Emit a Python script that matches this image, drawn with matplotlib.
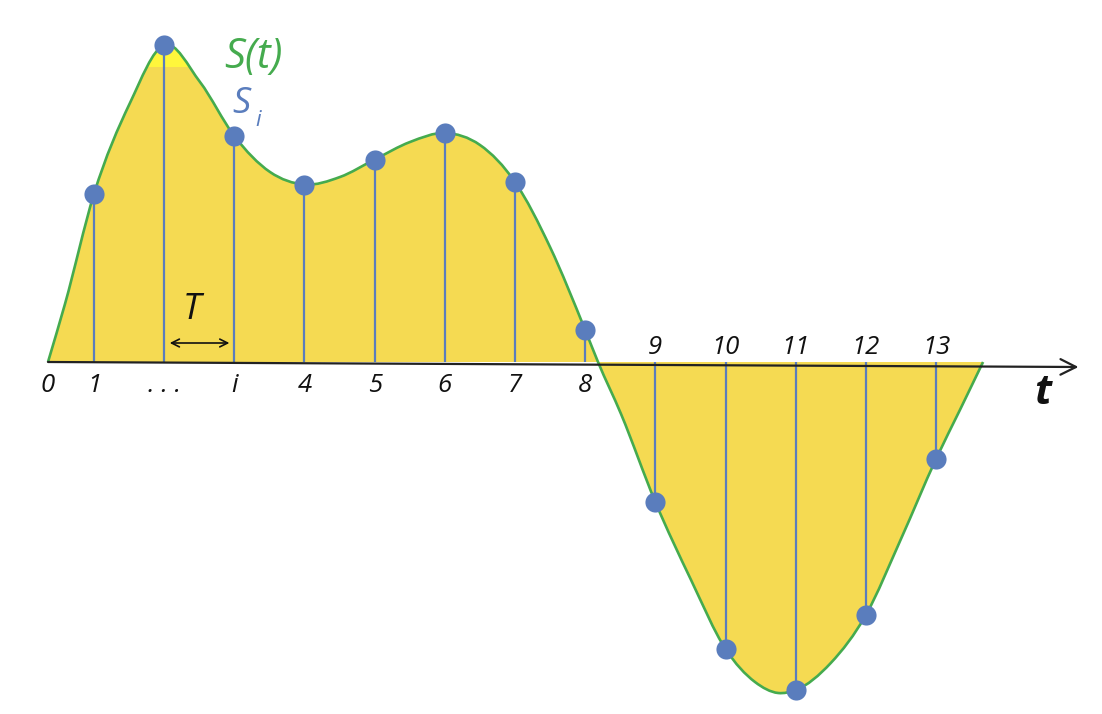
import numpy as np
import matplotlib.pyplot as plt
from matplotlib.path import Path
from matplotlib.patches import PathPatch

# continuous signal S(t) (t in units of T)
curve_t = [0.345, 0.587, 1.0, 1.513, 2.0, 2.511, 3.0, 3.509, 4.0, 4.506,
           5.0, 5.504, 6.0, 6.501, 7.0, 7.499, 8.0, 8.183, 8.511, 9.0,
           9.509, 10.0, 10.42, 10.75, 11.0, 11.5, 12.0, 12.5, 13.0, 13.34,
           13.67]
curve_s = [0.0, 0.58, 1.68, 2.59, 3.17, 2.80, 2.26, 1.90, 1.775, 1.85,
           2.025, 2.20, 2.29, 2.17, 1.80, 1.15, 0.32, 0.0, -0.52, -1.40,
           -2.18, -2.87, -3.20, -3.31, -3.28, -3.01, -2.53, -1.77, -0.97, -0.48,
           0.0]

# samples S_i
sample_t = [1, 2, 3, 4, 5, 6, 7, 8, 9, 10, 11, 12, 13]
sample_s = [1.68, 3.17, 2.26, 1.775, 2.025, 2.29, 1.80, 0.32,
            -1.40, -2.87, -3.28, -2.53, -0.97]

below_labels = ['0', '1', '. . .', 'i', '4', '5', '6', '7', '8']
below_pos = [0.345, 1, 2, 3, 4, 5, 6, 7, 8]
above_labels = ['9', '10', '11', '12', '13']
above_pos = [9, 10, 11, 12, 13]

yellow = '#F5DA52'
green = '#45AB4E'
blue = '#5A7DBD'
font = 'Open Sans'


def smooth_path(t, s):
    # draw the read points as a smooth bezier line (cubic hermite handles)
    t = np.asarray(t)
    s = np.asarray(s)
    d = np.gradient(s, t)
    verts = [(t[0], s[0])]
    codes = [Path.MOVETO]
    for i in range(len(t) - 1):
        h = t[i + 1] - t[i]
        verts += [(t[i] + h / 3, s[i] + d[i] * h / 3),
                  (t[i + 1] - h / 3, s[i + 1] - d[i + 1] * h / 3),
                  (t[i + 1], s[i + 1])]
        codes += [Path.CURVE4] * 3
    return verts, codes


fig = plt.figure(figsize=(11.02, 7.14), dpi=100)
ax = fig.add_axes([0, 0, 1, 1])
ax.set_xlim(-0.339, 15.365)
ax.set_ylim(-3.52, 3.62)
ax.axis('off')

verts, codes = smooth_path(curve_t, curve_s)
fill = PathPatch(Path(verts + [verts[0]], codes + [Path.CLOSEPOLY]),
                 facecolor=yellow, edgecolor='none')
ax.add_patch(fill)
band = ax.axhspan(2.95, 3.62, color='#FFF63C', lw=0)
band.set_clip_path(fill)
ax.add_patch(PathPatch(Path(verts, codes), facecolor='none',
                       edgecolor=green, lw=1.9))

# time axis with arrow
ax.annotate('', xy=(15.03, -0.05), xytext=(0.345, 0.0),
            arrowprops=dict(arrowstyle='->', color='#222222', lw=1.6,
                            mutation_scale=28, shrinkA=0, shrinkB=0))

ax.vlines(sample_t, 0, sample_s, color=blue, lw=1.6)
ax.plot(sample_t, sample_s, 'o', color=blue, ms=14.5, mec='none')

for lab, p in zip(below_labels, below_pos):
    ax.text(p, -0.24, lab, ha='center', va='center', fontsize=18.5,
            style='italic', family=font, color='#111111')
for lab, p in zip(above_labels, above_pos):
    ax.text(p, 0.14, lab, ha='center', va='center', fontsize=18.5,
            style='italic', family=font, color='#111111')

ax.text(14.52, -0.31, 't', ha='center', va='center', fontsize=30,
        style='italic', weight='bold', family=font, color='#111111')

# sampling period T
ax.annotate('', xy=(2.93, 0.19), xytext=(2.08, 0.19),
            arrowprops=dict(arrowstyle='<->', color='#111111', lw=1.2,
                            mutation_scale=14, shrinkA=0, shrinkB=0))
ax.text(2.40, 0.52, 'T', ha='center', va='center', fontsize=26,
        style='italic', family=font, color='#111111')

ax.text(3.27, 3.05, 'S(t)', ha='center', va='center', fontsize=30,
        style='italic', family=font, color=green)
ax.text(3.10, 2.58, 'S', ha='center', va='center', fontsize=26,
        style='italic', family=font, color=blue)
ax.text(3.34, 2.42, 'i', ha='center', va='center', fontsize=16,
        style='italic', family=font, color=blue)

fig.savefig('out.png', dpi=100)
